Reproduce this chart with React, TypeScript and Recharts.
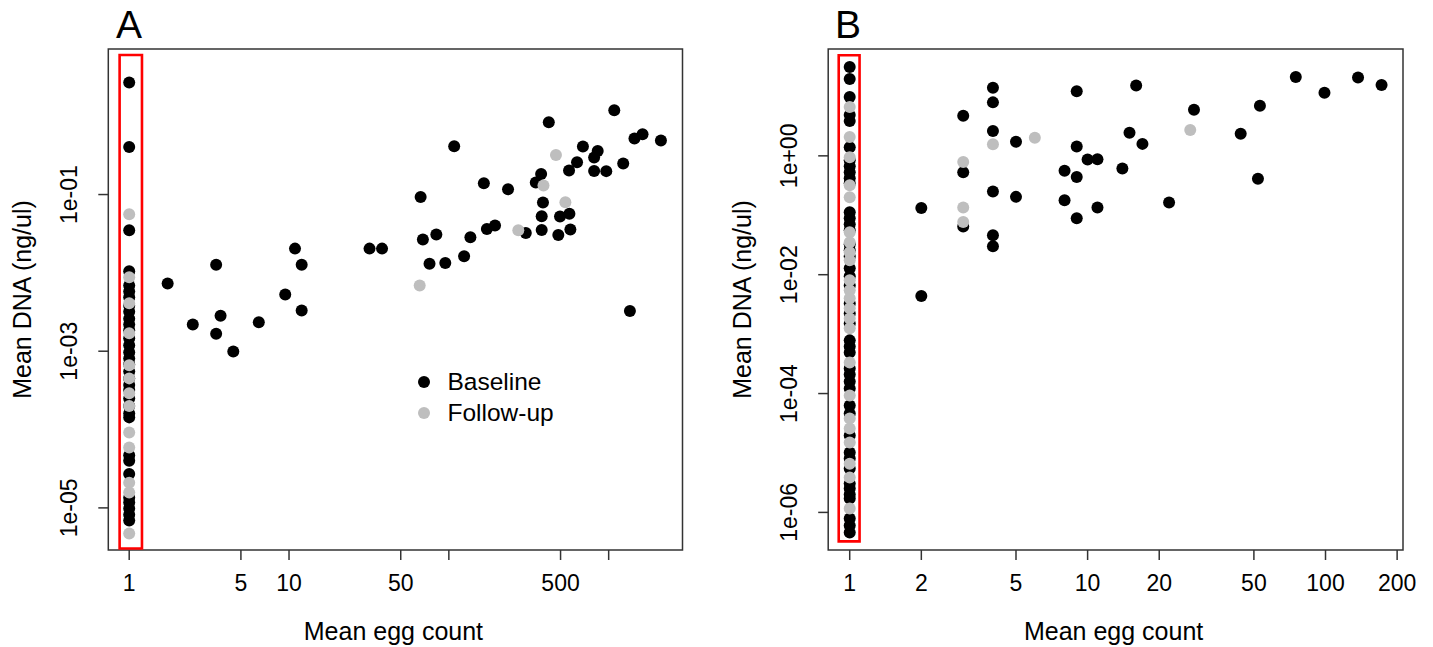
import React from "react";
import { ScatterChart, Scatter, XAxis, YAxis, ReferenceArea, Legend } from "recharts";

const FONT = '"Liberation Sans", Arial, Helvetica, sans-serif';
const BLACK = "#000000";
const GREY = "#bebebe";
const FRAME = "#333333";

// zero egg counts are plotted at 1 (inside the red box)
const COLUMN_EGG = 1;

// ---- Panel A ----
const aBaseColY = [
  2.7, 0.405, 0.035, 0.0105, 0.0069, 0.0058, 0.0049, 0.0038, 0.0032, 0.0026, 0.0022,
  0.00185, 0.00146, 0.00119, 0.00097, 0.00081, 0.00068, 0.00055, 0.00045, 0.00037,
  0.00032, 0.00025, 0.0002, 0.00016, 0.000143, 4.7e-5, 4.0e-5, 2.7e-5, 1.35e-5,
  1.17e-5, 9.8e-6, 8.2e-6, 6.9e-6,
];
const aFollowColY = [
  0.056, 0.0088, 0.0041, 0.00169, 0.00066, 0.00045, 0.00029, 0.0002, 9.2e-5, 5.9e-5,
  2.1e-5, 1.57e-5, 4.7e-6,
];
const aBaseX = [
  1.74, 3.5, 2.5, 3.73, 3.5, 4.48, 6.47, 9.47, 12.0, 10.9, 12.0, 31.9, 38.2, 66.6, 68.8,
  83.5, 75.7, 95, 108, 124.6, 136.4, 165.6, 173, 194.5, 234.6, 303, 350, 378, 422, 388,
  381, 381, 484, 496, 568, 576, 565, 634, 690, 811, 854, 811, 966, 1084, 1233, 1450,
  1629, 2123, 1358,
];
const aBaseY = [
  0.0073, 0.0127, 0.0022, 0.00284, 0.00167, 0.00099, 0.00235, 0.0053, 0.0033, 0.0204,
  0.0127, 0.0204, 0.0204, 0.093, 0.0266, 0.0308, 0.0131, 0.0134, 0.414, 0.0163, 0.0285,
  0.139, 0.0363, 0.0402, 0.117, 0.0323, 0.142, 0.183, 0.84, 0.079, 0.053, 0.0353,
  0.0305, 0.0523, 0.057, 0.0357, 0.203, 0.259, 0.41, 0.297, 0.36, 0.2, 0.199, 1.19,
  0.249, 0.52, 0.59, 0.49, 0.00326,
];
const aFollowX = [65.7, 272, 391, 536, 468];
const aFollowY = [0.0069, 0.035, 0.13, 0.08, 0.32];

const aXTicks = [1, 5, 10, 50, 100, 500, 1000];
const aXLabels = ["1", "5", "10", "50", "", "500", ""];
const aYTicks = [1e-5, 1e-3, 1e-1];
const aYLabels = ["1e-05", "1e-03", "1e-01"];
const aXDomain = [0.74, 2897];
const aYDomain = [2.9e-6, 7.21];
const aBoxX = [0.871, 1.202];
const aBoxY = [3.03e-6, 6.04];

// ---- Panel B ----
const bBaseColY = [
  31.2, 19.6, 9.75, 4.85, 3.84, 1.4, 0.847, 0.67, 0.531, 0.421, 0.347, 0.1125, 0.0892,
  0.0707, 0.056, 0.0325, 0.0258, 0.0202, 0.0128, 0.0094, 0.0066, 0.00327, 0.00222,
  0.00151, 0.000785, 0.000622, 0.000492, 0.000265, 0.00021, 0.00016, 0.000122, 6.3e-5,
  4.6e-5, 1.97e-5, 1.02e-5, 8.1e-6, 5.5e-6, 3.05e-6, 2.52e-6, 2.0e-6, 1.71e-6, 7.9e-7,
  6.0e-7, 4.57e-7,
];
const bFollowColY = [
  6.62, 2.07, 0.95, 0.321, 0.201, 0.0518, 0.0351, 0.0238, 0.0175, 0.00805, 0.00546,
  0.004, 0.00272, 0.00184, 0.00125, 0.000334, 9.3e-5, 3.8e-5, 2.58e-5, 1.5e-5, 6.6e-6,
  3.86e-6, 1.16e-6,
];
const bBaseX = [
  2, 2, 3, 3, 3, 4, 4, 4, 4, 4, 4, 5, 5, 8, 8, 9, 9, 9, 9, 10, 11, 11, 14, 15, 16, 17,
  22, 28, 44, 52, 53, 75, 99, 137, 172,
];
const bBaseY = [
  0.133, 0.0044, 4.72, 0.53, 0.065, 14.0, 7.94, 2.61, 0.251, 0.046, 0.03, 1.72, 0.204,
  0.56, 0.179, 12.2, 1.44, 0.44, 0.089, 0.87, 0.88, 0.135, 0.61, 2.44, 15.3, 1.59, 0.164,
  5.96, 2.35, 0.41, 6.96, 21.2, 11.5, 20.9, 15.5,
];
const bFollowX = [3, 3, 3, 4, 6, 27];
const bFollowY = [0.79, 0.135, 0.077, 1.57, 2.01, 2.71];

const bXTicks = [1, 2, 5, 10, 20, 50, 100, 200];
const bXLabels = ["1", "2", "5", "10", "20", "50", "100", "200"];
const bYTicks = [1e-6, 1e-4, 1e-2, 1];
const bYLabels = ["1e-06", "1e-04", "1e-02", "1e+00"];
const bXDomain = [0.812, 211.7];
const bYDomain = [2.33e-7, 62.8];
const bBoxX = [0.899, 1.1];
const bBoxY = [3.26e-7, 49.2];

type Pt = { x: number; y: number };
const column = (ys: number[]): Pt[] => ys.map((y) => ({ x: COLUMN_EGG, y }));
const pairs = (xs: number[], ys: number[]): Pt[] => xs.map((x, i) => ({ x, y: ys[i] }));

const dot = (p: any) => <circle cx={p.cx} cy={p.cy} r={6} fill={p.fill} />;

const makeYTick = (ticks: number[], labels: string[]) => (p: any) => {
  const label = labels[ticks.indexOf(p.payload.value)];
  return (
    <text
      x={p.x}
      y={p.y}
      transform={`rotate(-90, ${p.x}, ${p.y})`}
      textAnchor="middle"
      fontSize={23}
      fontFamily={FONT}
      fill="#000"
    >
      {label}
    </text>
  );
};

const xTitle = (p: any) => {
  const vb = p.viewBox;
  return (
    <text x={vb.x + vb.width / 2 - 2} y={vb.y + 89.5} textAnchor="middle" fontSize={25} fontFamily={FONT} fill="#000">
      Mean egg count
    </text>
  );
};

const yTitle = (p: any) => {
  const vb = p.viewBox;
  const x = vb.x + vb.width - 77;
  const y = vb.y + vb.height / 2;
  return (
    <text x={x} y={y} transform={`rotate(-90, ${x}, ${y})`} textAnchor="middle" fontSize={25} fontFamily={FONT} fill="#000">
      Mean DNA (ng/ul)
    </text>
  );
};

const renderLegend = (props: any) => (
  <div style={{ fontFamily: FONT, fontSize: 24.5, color: "#000" }}>
    {(props.payload ?? []).map((e: any) => (
      <div key={e.value} style={{ display: "flex", alignItems: "center", height: 31 }}>
        <svg width={12} height={12} style={{ marginRight: 17.5 }}>
          <circle cx={6} cy={6} r={6} fill={e.color} />
        </svg>
        <span>{e.value}</span>
      </div>
    ))}
  </div>
);

interface PanelProps {
  width: number;
  axisWidth: number;
  right: number;
  base: Pt[];
  follow: Pt[];
  xTicks: number[];
  xLabels: string[];
  yTicks: number[];
  yLabels: string[];
  xDomain: number[];
  yDomain: number[];
  boxX: number[];
  boxY: number[];
  legend?: boolean;
}

function Panel(props: PanelProps) {
  const { xDomain, yDomain } = props;
  return (
    <ScatterChart
      width={props.width}
      height={647}
      margin={{ top: 49, right: props.right, bottom: 0, left: 0 }}
    >
      <XAxis
        type="number"
        dataKey="x"
        scale="log"
        domain={xDomain}
        allowDataOverflow
        ticks={props.xTicks}
        interval={0}
        tickFormatter={(v: number) => props.xLabels[props.xTicks.indexOf(v)]}
        tick={{ fontSize: 23, fontFamily: FONT, fill: "#000" }}
        tickSize={10}
        tickMargin={15}
        tickLine={{ stroke: FRAME, strokeWidth: 1.5 }}
        axisLine={false}
        height={97}
        label={{ content: xTitle }}
      />
      <YAxis
        type="number"
        dataKey="y"
        scale="log"
        domain={yDomain}
        allowDataOverflow
        ticks={props.yTicks}
        interval={0}
        tick={makeYTick(props.yTicks, props.yLabels)}
        tickSize={10}
        tickMargin={21.6}
        tickLine={{ stroke: FRAME, strokeWidth: 1.5 }}
        axisLine={false}
        width={props.axisWidth}
        label={{ content: yTitle }}
      />
      <ReferenceArea
        x1={xDomain[0]}
        x2={xDomain[1]}
        y1={yDomain[0]}
        y2={yDomain[1]}
        fill="none"
        stroke={FRAME}
        strokeWidth={1.5}
        ifOverflow="visible"
      />
      <Scatter name="Baseline" data={props.base} fill={BLACK} shape={dot} isAnimationActive={false} />
      <Scatter name="Follow-up" data={props.follow} fill={GREY} shape={dot} isAnimationActive={false} />
      <ReferenceArea
        x1={props.boxX[0]}
        x2={props.boxX[1]}
        y1={props.boxY[0]}
        y2={props.boxY[1]}
        fill="none"
        stroke="#ff0000"
        strokeWidth={2.6}
        ifOverflow="visible"
      />
      {props.legend && (
        <Legend
          layout="vertical"
          align="center"
          verticalAlign="middle"
          content={renderLegend}
          wrapperStyle={{ left: 418, top: 366.5, width: "auto" }}
        />
      )}
    </ScatterChart>
  );
}

const titleStyle: React.CSSProperties = {
  position: "absolute",
  top: 5,
  fontFamily: FONT,
  fontSize: 39,
  lineHeight: "39px",
  color: "#000",
};

export default function App() {
  return (
    <div style={{ position: "fixed", left: 0, top: 0, width: 1433, height: 647, background: "#fff" }}>
      <div style={{ position: "absolute", left: 0, top: 0 }}>
        <Panel
          width={716}
          axisWidth={108.3}
          right={33.5}
          base={[...column(aBaseColY), ...pairs(aBaseX, aBaseY)]}
          follow={[...column(aFollowColY), ...pairs(aFollowX, aFollowY)]}
          xTicks={aXTicks}
          xLabels={aXLabels}
          yTicks={aYTicks}
          yLabels={aYLabels}
          xDomain={aXDomain}
          yDomain={aYDomain}
          boxX={aBoxX}
          boxY={aBoxY}
          legend
        />
      </div>
      <div style={{ position: "absolute", left: 716, top: 0 }}>
        <Panel
          width={717}
          axisWidth={112.2}
          right={30}
          base={[...column(bBaseColY), ...pairs(bBaseX, bBaseY)]}
          follow={[...column(bFollowColY), ...pairs(bFollowX, bFollowY)]}
          xTicks={bXTicks}
          xLabels={bXLabels}
          yTicks={bYTicks}
          yLabels={bYLabels}
          xDomain={bXDomain}
          yDomain={bYDomain}
          boxX={bBoxX}
          boxY={bBoxY}
        />
      </div>
      <div style={{ ...titleStyle, left: 116 }}>A</div>
      <div style={{ ...titleStyle, left: 835 }}>B</div>
    </div>
  );
}
